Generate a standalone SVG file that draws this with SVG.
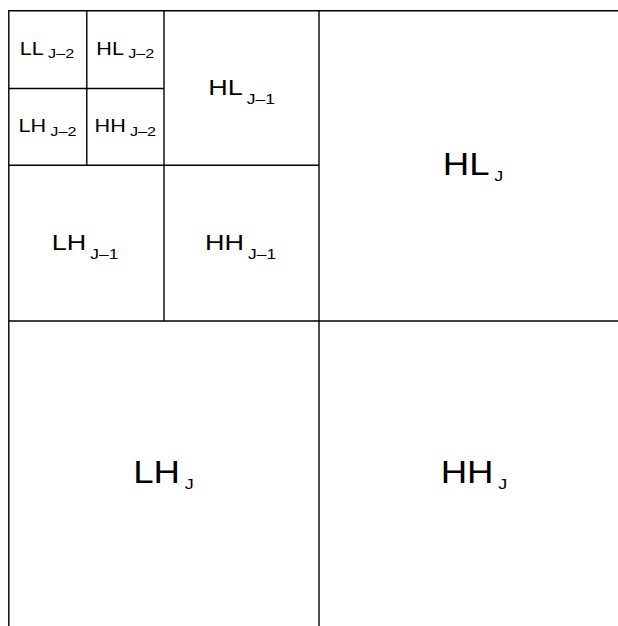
<svg xmlns="http://www.w3.org/2000/svg" width="618" height="626" viewBox="0 0 618 626">
<style>
.ln{stroke:#000;stroke-width:1.4;fill:none}
text{font-family:"Liberation Sans",Arial,sans-serif;fill:#000;text-anchor:middle}
.s{font-size:18px}
.s .sub{font-size:13.5px}
.m{font-size:22.5px}
.m .sub{font-size:14.5px}
.b{font-size:30.5px}
.b .sub{font-size:15px}
</style>
<rect width="618" height="626" fill="#fff"/>
<g id="grid">
<path class="ln" d="M8.8,626V10.8H618"/>
<path class="ln" d="M86.8,10.8V165.3"/>
<path class="ln" d="M164,10.8V321"/>
<path class="ln" d="M319,10.8V626"/>
<path class="ln" d="M8.8,88.5H164"/>
<path class="ln" d="M8.8,165.3H319"/>
<path class="ln" d="M8.8,321H618"/>
</g>
<g id="LL_J-2"><text class="s" transform="translate(47,55) scale(1.2,1)">LL<tspan class="sub" dx="3.5" dy="3.3">J–2</tspan></text></g>
<g id="HL_J-2"><text class="s" transform="translate(125.3,55) scale(1.2,1)">HL<tspan class="sub" dx="3.5" dy="3.3">J–2</tspan></text></g>
<g id="LH_J-2"><text class="s" transform="translate(47.5,131.7) scale(1.2,1)">LH<tspan class="sub" dx="3.5" dy="4">J–2</tspan></text></g>
<g id="HH_J-2"><text class="s" transform="translate(125.3,131.7) scale(1.2,1)">HH<tspan class="sub" dx="3.5" dy="4">J–2</tspan></text></g>
<g id="HL_J-1"><text class="m" transform="translate(241.5,95) scale(1.2,1)">HL<tspan class="sub" dx="3.5" dy="9.3">J–1</tspan></text></g>
<g id="LH_J-1"><text class="m" transform="translate(85,250) scale(1.2,1)">LH<tspan class="sub" dx="3.5" dy="9.3">J–1</tspan></text></g>
<g id="HH_J-1"><text class="m" transform="translate(240.5,250) scale(1.2,1)">HH<tspan class="sub" dx="3.5" dy="9.3">J–1</tspan></text></g>
<g id="HL_J"><text class="b" transform="translate(473,175) scale(1.2,1)">HL<tspan class="sub" dx="4" dy="5.7">J</tspan></text></g>
<g id="LH_J"><text class="b" transform="translate(163.5,483) scale(1.2,1)">LH<tspan class="sub" dx="4" dy="5.7">J</tspan></text></g>
<g id="HH_J"><text class="b" transform="translate(474,483) scale(1.2,1)">HH<tspan class="sub" dx="4" dy="5.7">J</tspan></text></g>
</svg>
